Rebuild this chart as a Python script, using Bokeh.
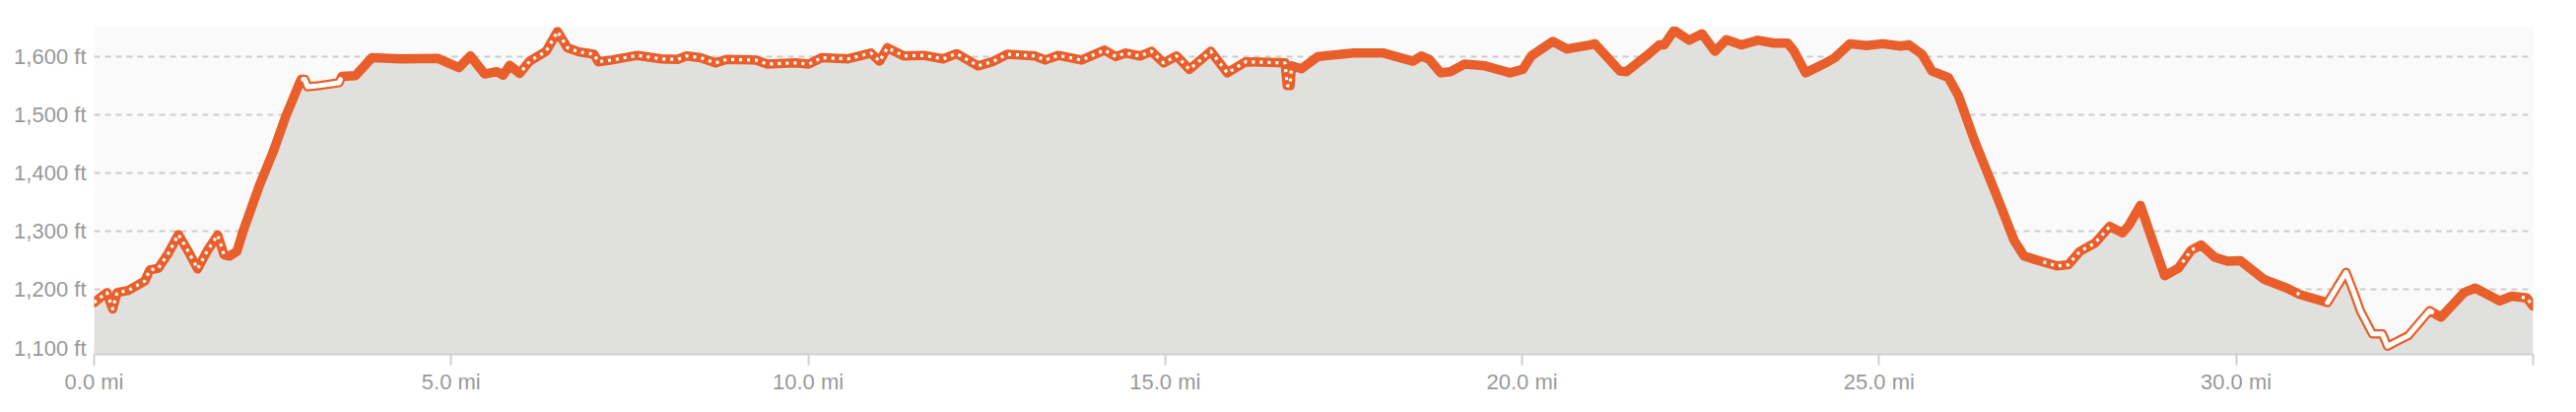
import numpy as np
from bokeh.plotting import figure
from bokeh.models import FixedTicker, Span, Range1d
from bokeh.embed import file_html
from bokeh.resources import INLINE

# ---- data (distance in miles, elevation in feet) ----
miles = [0.00, 0.10, 0.18, 0.26, 0.32, 0.48, 0.71, 0.78, 0.90, 1.04, 1.18, 1.31, 1.45, 1.59,
         1.73, 1.82, 1.90, 2.00, 2.09, 2.32, 2.51, 2.69, 2.90, 2.95, 2.99, 3.15, 3.43, 3.47,
         3.66, 3.89, 4.30, 4.81, 5.11, 5.27, 5.47, 5.64, 5.73, 5.82, 5.96, 6.10, 6.33, 6.49,
         6.63, 6.79, 7.00, 7.06, 7.25, 7.61, 7.94, 8.17, 8.30, 8.49, 8.70, 8.86, 9.27, 9.43,
         9.82, 10.01, 10.19, 10.56, 10.88, 11.00, 11.11, 11.34, 11.62, 11.89, 12.08, 12.38,
         12.58, 12.79, 13.18, 13.32, 13.50, 13.83, 14.15, 14.31, 14.45, 14.65, 14.81, 14.98,
         15.16, 15.34, 15.64, 15.87, 16.13, 16.68, 16.71, 16.75, 16.77, 16.91, 17.14, 17.64,
         18.06, 18.47, 18.59, 18.70, 18.86, 19.00, 19.19, 19.48, 19.83, 20.01, 20.13, 20.26,
         20.43, 20.63, 20.95, 21.02, 21.37, 21.46, 21.74, 21.92, 21.99, 22.13, 22.34, 22.52,
         22.70, 22.86, 23.07, 23.30, 23.53, 23.72, 23.81, 23.97, 24.22, 24.38, 24.59, 24.82,
         25.05, 25.30, 25.42, 25.60, 25.74, 25.97, 26.11, 26.34, 26.62, 26.89, 27.03, 27.21,
         27.49, 27.65, 27.81, 28.02, 28.23, 28.41, 28.50, 28.66, 28.78, 29.00, 29.19, 29.37,
         29.51, 29.70, 29.88, 30.06, 30.39, 30.71, 30.89, 31.28, 31.54, 31.65, 31.74, 31.91,
         32.05, 32.12, 32.23, 32.41, 32.71, 32.87, 33.19, 33.35, 33.69, 33.86, 34.07, 34.16]
elev = [1178, 1188, 1195, 1167, 1195, 1199, 1215, 1234, 1237, 1263, 1295, 1268, 1236, 1268,
        1294, 1260, 1258, 1266, 1302, 1381, 1438, 1500, 1562, 1562, 1549, 1551, 1556, 1567,
        1568, 1599, 1597, 1598, 1582, 1602, 1571, 1575, 1569, 1586, 1572, 1593, 1610, 1644,
        1616, 1609, 1605, 1592, 1595, 1603, 1597, 1596, 1602, 1599, 1590, 1596, 1595, 1588,
        1590, 1588, 1599, 1597, 1607, 1593, 1616, 1602, 1603, 1597, 1606, 1585,
        1592, 1605, 1602, 1595, 1603, 1595, 1612, 1601, 1607, 1602, 1610, 1590,
        1602, 1579, 1610, 1573, 1592, 1590, 1551, 1551, 1585, 1580, 1601, 1607,
        1607, 1593, 1602, 1596, 1573, 1575, 1588, 1585, 1573, 1579, 1602, 1613,
        1627, 1614, 1621, 1623, 1576, 1575, 1602, 1621, 1621, 1646, 1629, 1640,
        1610, 1630, 1621, 1629, 1624, 1624, 1610, 1573, 1588, 1599, 1623, 1620,
        1623, 1619, 1621, 1605, 1576, 1565, 1534, 1455, 1370, 1285, 1258, 1251,
        1241, 1243, 1266, 1280, 1309, 1298, 1311, 1345, 1302, 1224, 1237, 1268,
        1277, 1256, 1249, 1250, 1218, 1203, 1192, 1178, 1230, 1195, 1164, 1124,
        1124, 1103, 1110, 1121, 1164, 1153, 1195, 1203, 1181, 1189, 1186, 1172]

# stretches of the route drawn with a dotted white centre, and with a solid white centre
dotted_ranges = [(0.0, 1.82), (6.0, 16.77), (27.3, 28.22), (29.25, 29.42), (30.85, 30.93), (34.0, 34.16)]
hollow_ranges = [(2.93, 3.45), (31.28, 32.74)]

x_ticks = [0, 5, 10, 15, 20, 25, 30]
x_tick_labels = ["0.0 mi", "5.0 mi", "10.0 mi", "15.0 mi", "20.0 mi", "25.0 mi", "30.0 mi"]
y_ticks = [1100, 1200, 1300, 1400, 1500, 1600]
y_tick_labels = ["1,100 ft", "1,200 ft", "1,300 ft", "1,400 ft", "1,500 ft", "1,600 ft"]

y_bottom, y_top = 1089, 1655

ORANGE = "#e95f2b"
TEXT = "#999999"
FONT = "Liberation Sans"

mx = np.array(miles, dtype=float)
ey = np.array(elev, dtype=float)
x_end = float(mx[-1])


def segment(a, b):
    inside = (mx > a) & (mx < b)
    xs = np.concatenate([[a], mx[inside], [b]])
    ys = np.interp(xs, mx, ey)
    return xs, ys


p = figure(width=2606, height=410, output_backend="svg", toolbar_location=None,
           x_range=Range1d(0, x_end), y_range=Range1d(y_bottom, y_top),
           min_border_left=95, min_border_right=36, min_border_top=25, min_border_bottom=51)

p.background_fill_color = "#fafafa"
p.border_fill_color = None
p.outline_line_color = None

# area
p.varea(x=mx, y1=y_bottom, y2=ey, fill_color="#e0e0de")

# main line
p.line(mx, ey, line_color=ORANGE, line_width=9.5, line_join="round", line_cap="round")

for a, b in hollow_ranges:
    xs, ys = segment(a, b)
    p.line(xs, ys, line_color="white", line_width=5, line_join="round", line_cap="round")

for a, b in dotted_ranges:
    xs, ys = segment(a, b)
    p.line(xs, ys, line_color="white", line_width=3.2, line_dash="3 5", line_join="round")

# top white edge of the plot frame
p.add_layout(Span(location=y_top, dimension="width", line_color="white", line_width=3))

# x axis
xt = x_ticks + [x_end]
p.xaxis.ticker = FixedTicker(ticks=xt)
p.xaxis.major_label_overrides = {**{t: l for t, l in zip(x_ticks, x_tick_labels)}, x_end: ""}
p.xaxis.axis_line_color = "#cfcfcf"
p.xaxis.axis_line_width = 2
p.xaxis.major_tick_line_color = "#cfcfcf"
p.xaxis.major_tick_line_width = 2
p.xaxis.major_tick_out = 11
p.xaxis.major_tick_in = 0
p.xaxis.minor_tick_line_color = None
p.xaxis.major_label_text_font = FONT
p.xaxis.major_label_text_font_size = "22px"
p.xaxis.major_label_text_color = TEXT
p.xaxis.major_label_standoff = 4

# y axis
p.yaxis.ticker = FixedTicker(ticks=y_ticks)
p.yaxis.major_label_overrides = {t: l for t, l in zip(y_ticks, y_tick_labels)}
p.yaxis.axis_line_color = None
p.yaxis.major_tick_line_color = None
p.yaxis.minor_tick_line_color = None
p.yaxis.major_tick_out = 0
p.yaxis.major_tick_in = 0
p.yaxis.major_label_text_font = FONT
p.yaxis.major_label_text_font_size = "22px"
p.yaxis.major_label_text_color = TEXT
p.yaxis.major_label_standoff = 8

# grid
p.xgrid.grid_line_color = None
p.ygrid.grid_line_color = "#cccccc"
p.ygrid.grid_line_width = 2
p.ygrid.grid_line_dash = "6 5"

html = file_html(p, INLINE)
html = html.replace("<body>", '<body style="background: linear-gradient(#ffffff 0px, #ededed 4px, #f8f8f8 22px, #f9f9f9 30px);">', 1)
open("out.html", "w").write(html)
